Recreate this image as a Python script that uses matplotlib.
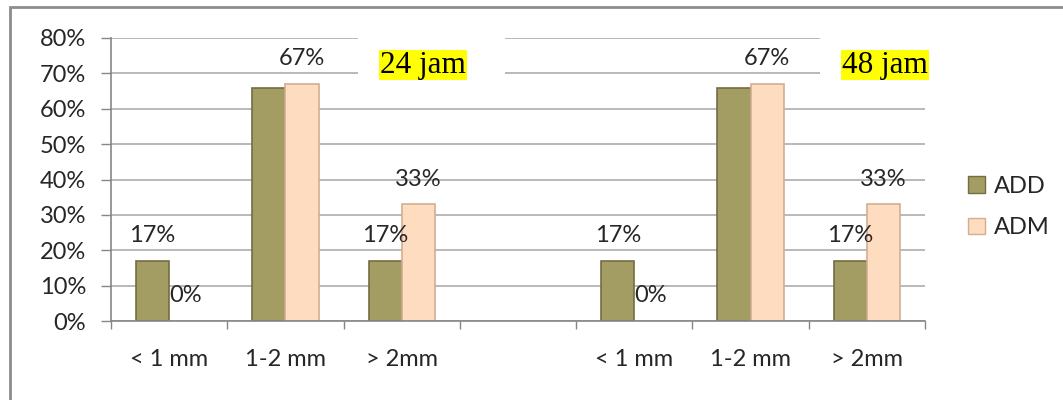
import numpy as np
from matplotlib import pyplot as plt
from matplotlib.patches import Rectangle
from matplotlib.ticker import FixedLocator, PercentFormatter

# -------------------------------------------------
# Data
# -------------------------------------------------
categories = ["< 1 mm", "1-2 mm", "> 2mm", "", "< 1 mm", "1-2 mm", "> 2mm"]
add_values = [0.17, 0.66, 0.17, np.nan, 0.17, 0.66, 0.17]
adm_values = [0.00, 0.67, 0.33, np.nan, 0.00, 0.67, 0.33]
# the ADD label of the 1-2 mm bars is not shown in the original
add_shown = [True, False, True, False, True, False, True]
adm_shown = [True, True, True, False, True, True, True]
series_names = ["ADD", "ADM"]
panel_titles = ["24 jam", "48 jam"]
y_ticks = [0.0, 0.1, 0.2, 0.3, 0.4, 0.5, 0.6, 0.7, 0.8]

ADD_COLOR = "#a39c63"
ADD_EDGE = "#736d44"
ADM_COLOR = "#fedcc0"
ADM_EDGE = "#d2ae92"
GRID = "#a6a6a6"
AXIS = "#868686"
TEXT = "#262626"
FONT = ["Lato", "DejaVu Sans"]
FS = 17

W, H = 1063, 400

plt.rcParams["font.family"] = FONT

fig = plt.figure(figsize=(W / 100, H / 100), dpi=100)
ax = fig.add_axes([111 / W, (H - 321) / H, (925 - 111) / W, (321 - 38) / H])

x = np.arange(len(categories))
bw = 0.285

bars_add = ax.bar(x - bw / 2, add_values, bw, color=ADD_COLOR,
                  edgecolor=ADD_EDGE, linewidth=1.2, zorder=2)
bars_adm = ax.bar(x + bw / 2, adm_values, bw, color=ADM_COLOR,
                  edgecolor=ADM_EDGE, linewidth=1.2, zorder=2)

# data labels
for bars, vals, shown in ((bars_add, add_values, add_shown),
                          (bars_adm, adm_values, adm_shown)):
    for b, v, s in zip(bars, vals, shown):
        if not s or np.isnan(v):
            continue
        ax.annotate(f"{v:.0%}", (b.get_x() + b.get_width() / 2, v),
                    xytext=(0, 18), textcoords="offset points",
                    ha="center", va="center", fontsize=FS, color=TEXT,
                    zorder=4)

# axes styling
ax.set_xlim(-0.5, len(categories) - 0.5)
ax.set_ylim(0, 0.8)
ax.set_yticks(y_ticks)
ax.yaxis.set_major_formatter(PercentFormatter(1.0, decimals=0))
ax.set_xticks(x)
ax.set_xticklabels(categories)
ax.xaxis.set_minor_locator(FixedLocator(np.arange(-0.5, len(categories), 1.0)))
ax.tick_params(axis="x", which="major", length=0, pad=20,
               labelsize=FS, labelcolor=TEXT)
ax.tick_params(axis="x", which="minor", length=6, width=1, color=AXIS,
               direction="out")
ax.tick_params(axis="y", length=7, width=1, color=AXIS, pad=11,
               labelsize=FS, labelcolor=TEXT)
for side in ("top", "right"):
    ax.spines[side].set_visible(False)
for side in ("left", "bottom"):
    ax.spines[side].set_color(AXIS)
    ax.spines[side].set_linewidth(1.2)
ax.set_axisbelow(True)
ax.grid(axis="y", color=GRID, linewidth=1.1, zorder=0.5)

# white boxes behind the two panel titles hide part of the grid
for x0, x1 in ((358, 505), (820, 1000)):
    ax.add_patch(Rectangle((x0 / W, 1 - 90 / H), (x1 - x0) / W, 60 / H,
                           transform=fig.transFigure, facecolor="white",
                           edgecolor="none", clip_on=False, zorder=1))

for cx, title in zip((423, 885), panel_titles):
    fig.text(cx / W, 1 - 65 / H, title, ha="center", va="center",
             family=["Liberation Serif", "DejaVu Serif"], fontsize=22.5,
             color="black",
             bbox=dict(facecolor="#ffff00", edgecolor="none", pad=0.5),
             zorder=5)

# legend
handles = [Rectangle((0, 0), 1, 1, facecolor=ADD_COLOR, edgecolor=ADD_EDGE),
           Rectangle((0, 0), 1, 1, facecolor=ADM_COLOR, edgecolor=ADM_EDGE)]
fig.legend(handles, series_names, loc="center left",
           bbox_to_anchor=(947 / W, 1 - 207 / H), frameon=False,
           fontsize=FS, handlelength=0.7, handleheight=0.7,
           handletextpad=0.4, labelspacing=0.85, labelcolor=TEXT)

# outer chart border (cut off at right and bottom in the original)
fig.patches.append(Rectangle((10 / W, -0.1), 1.2, 1.1 - 7 / H,
                             transform=fig.transFigure, fill=False,
                             edgecolor="#8c8c8c", linewidth=2))

fig.savefig("out.png", dpi=100)
